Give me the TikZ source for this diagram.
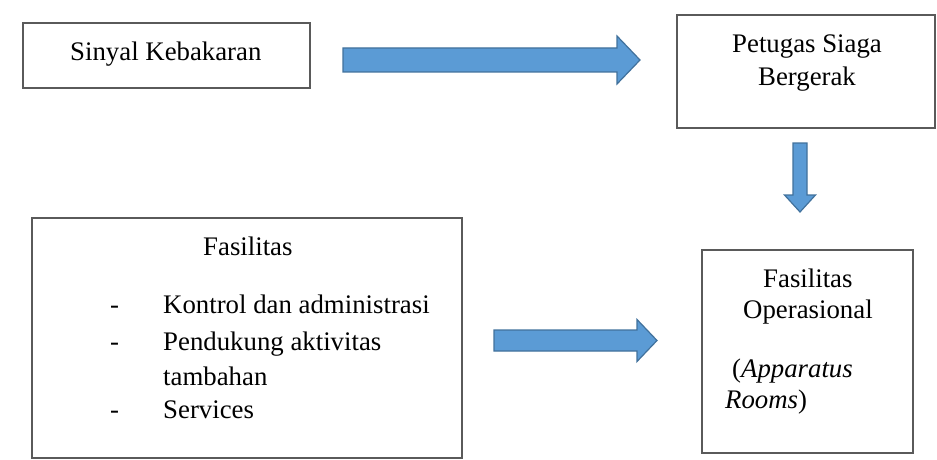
\documentclass[tikz,border=0pt]{standalone}
\usepackage{fontspec}
\setmainfont{Liberation Serif}
\usetikzlibrary{calc}
\definecolor{arrfill}{HTML}{5B9BD5}
\definecolor{arrdraw}{HTML}{41719C}
\definecolor{boxline}{HTML}{5A5A5A}
\tikzset{
  boxnode/.style={draw=boxline, line width=1.8pt, inner sep=0pt},
  txt/.style={inner sep=0pt, anchor=base west, font=\fontsize{26.8}{32}\selectfont},
  blockarrow/.style={fill=arrfill, draw=arrdraw, line width=1.2pt, line join=miter},
}
% horizontal block arrow: tail, tip, shaft half width, head half width, head length
\newcommand{\harrow}[5]{%
  \draw[blockarrow] ($(#1)+(0,-#3)$) -- ($(#2)+(-#5,-#3)$) -- ($(#2)+(-#5,-#4)$) -- (#2)
    -- ($(#2)+(-#5,#4)$) -- ($(#2)+(-#5,#3)$) -- ($(#1)+(0,#3)$) -- cycle;}
% vertical (downward) block arrow
\newcommand{\varrow}[5]{%
  \draw[blockarrow] ($(#1)+(-#3,0)$) -- ($(#2)+(-#3,-#5)$) -- ($(#2)+(-#4,-#5)$) -- (#2)
    -- ($(#2)+(#4,-#5)$) -- ($(#2)+(#3,-#5)$) -- ($(#1)+(#3,0)$) -- cycle;}
\begin{document}
\begin{tikzpicture}[x=1pt,y=-1pt]
\useasboundingbox (0,0) rectangle (937,460);
% boxes
\node[boxnode, minimum width=287pt, minimum height=65pt] (sinyal) at (166.5,55.5) {};
\node[boxnode, minimum width=258pt, minimum height=113pt] (petugas) at (806,71.5) {};
\node[boxnode, minimum width=430pt, minimum height=240pt] (fas) at (247,338) {};
\node[boxnode, minimum width=211pt, minimum height=203pt] (opr) at (807.5,351.5) {};
% texts
\node[txt] (t1) at (70,60) {Sinyal Kebakaran};
\node[txt, anchor=base] (t2) at (807,53) {Petugas Siaga};
\node[txt, anchor=base] (t3) at (807,85) {Bergerak};
\node[txt] (t4) at (203,255) {Fasilitas};
\node[txt] (d1) at (110,313) {-};
\node[txt] (d2) at (110,350) {-};
\node[txt] (d3) at (110,418) {-};
\node[txt] (i1) at (163,313) {Kontrol dan administrasi};
\node[txt] (i2) at (163,350) {Pendukung aktivitas};
\node[txt] (i3) at (163,385) {tambahan};
\node[txt] (i4) at (163,418) {Services};
\node[txt] (o1) at (763,287) {Fasilitas};
\node[txt] (o2) at (743,318) {Operasional};
\node[txt] (o3) at (732,377) {(\textit{Apparatus}};
\node[txt] (o4) at (725,408) {\textit{Rooms})};
% block arrows
\coordinate (a1s) at (343,60);
\coordinate (a1e) at (640,60);
\coordinate (a2s) at (800,143);
\coordinate (a2e) at (800,212);
\coordinate (a3s) at (494,340.5);
\coordinate (a3e) at (657,340.5);
\harrow{a1s}{a1e}{12}{24}{23}
\varrow{a2s}{a2e}{7}{15.5}{17}
\harrow{a3s}{a3e}{10.5}{21}{20}
\end{tikzpicture}
\end{document}
